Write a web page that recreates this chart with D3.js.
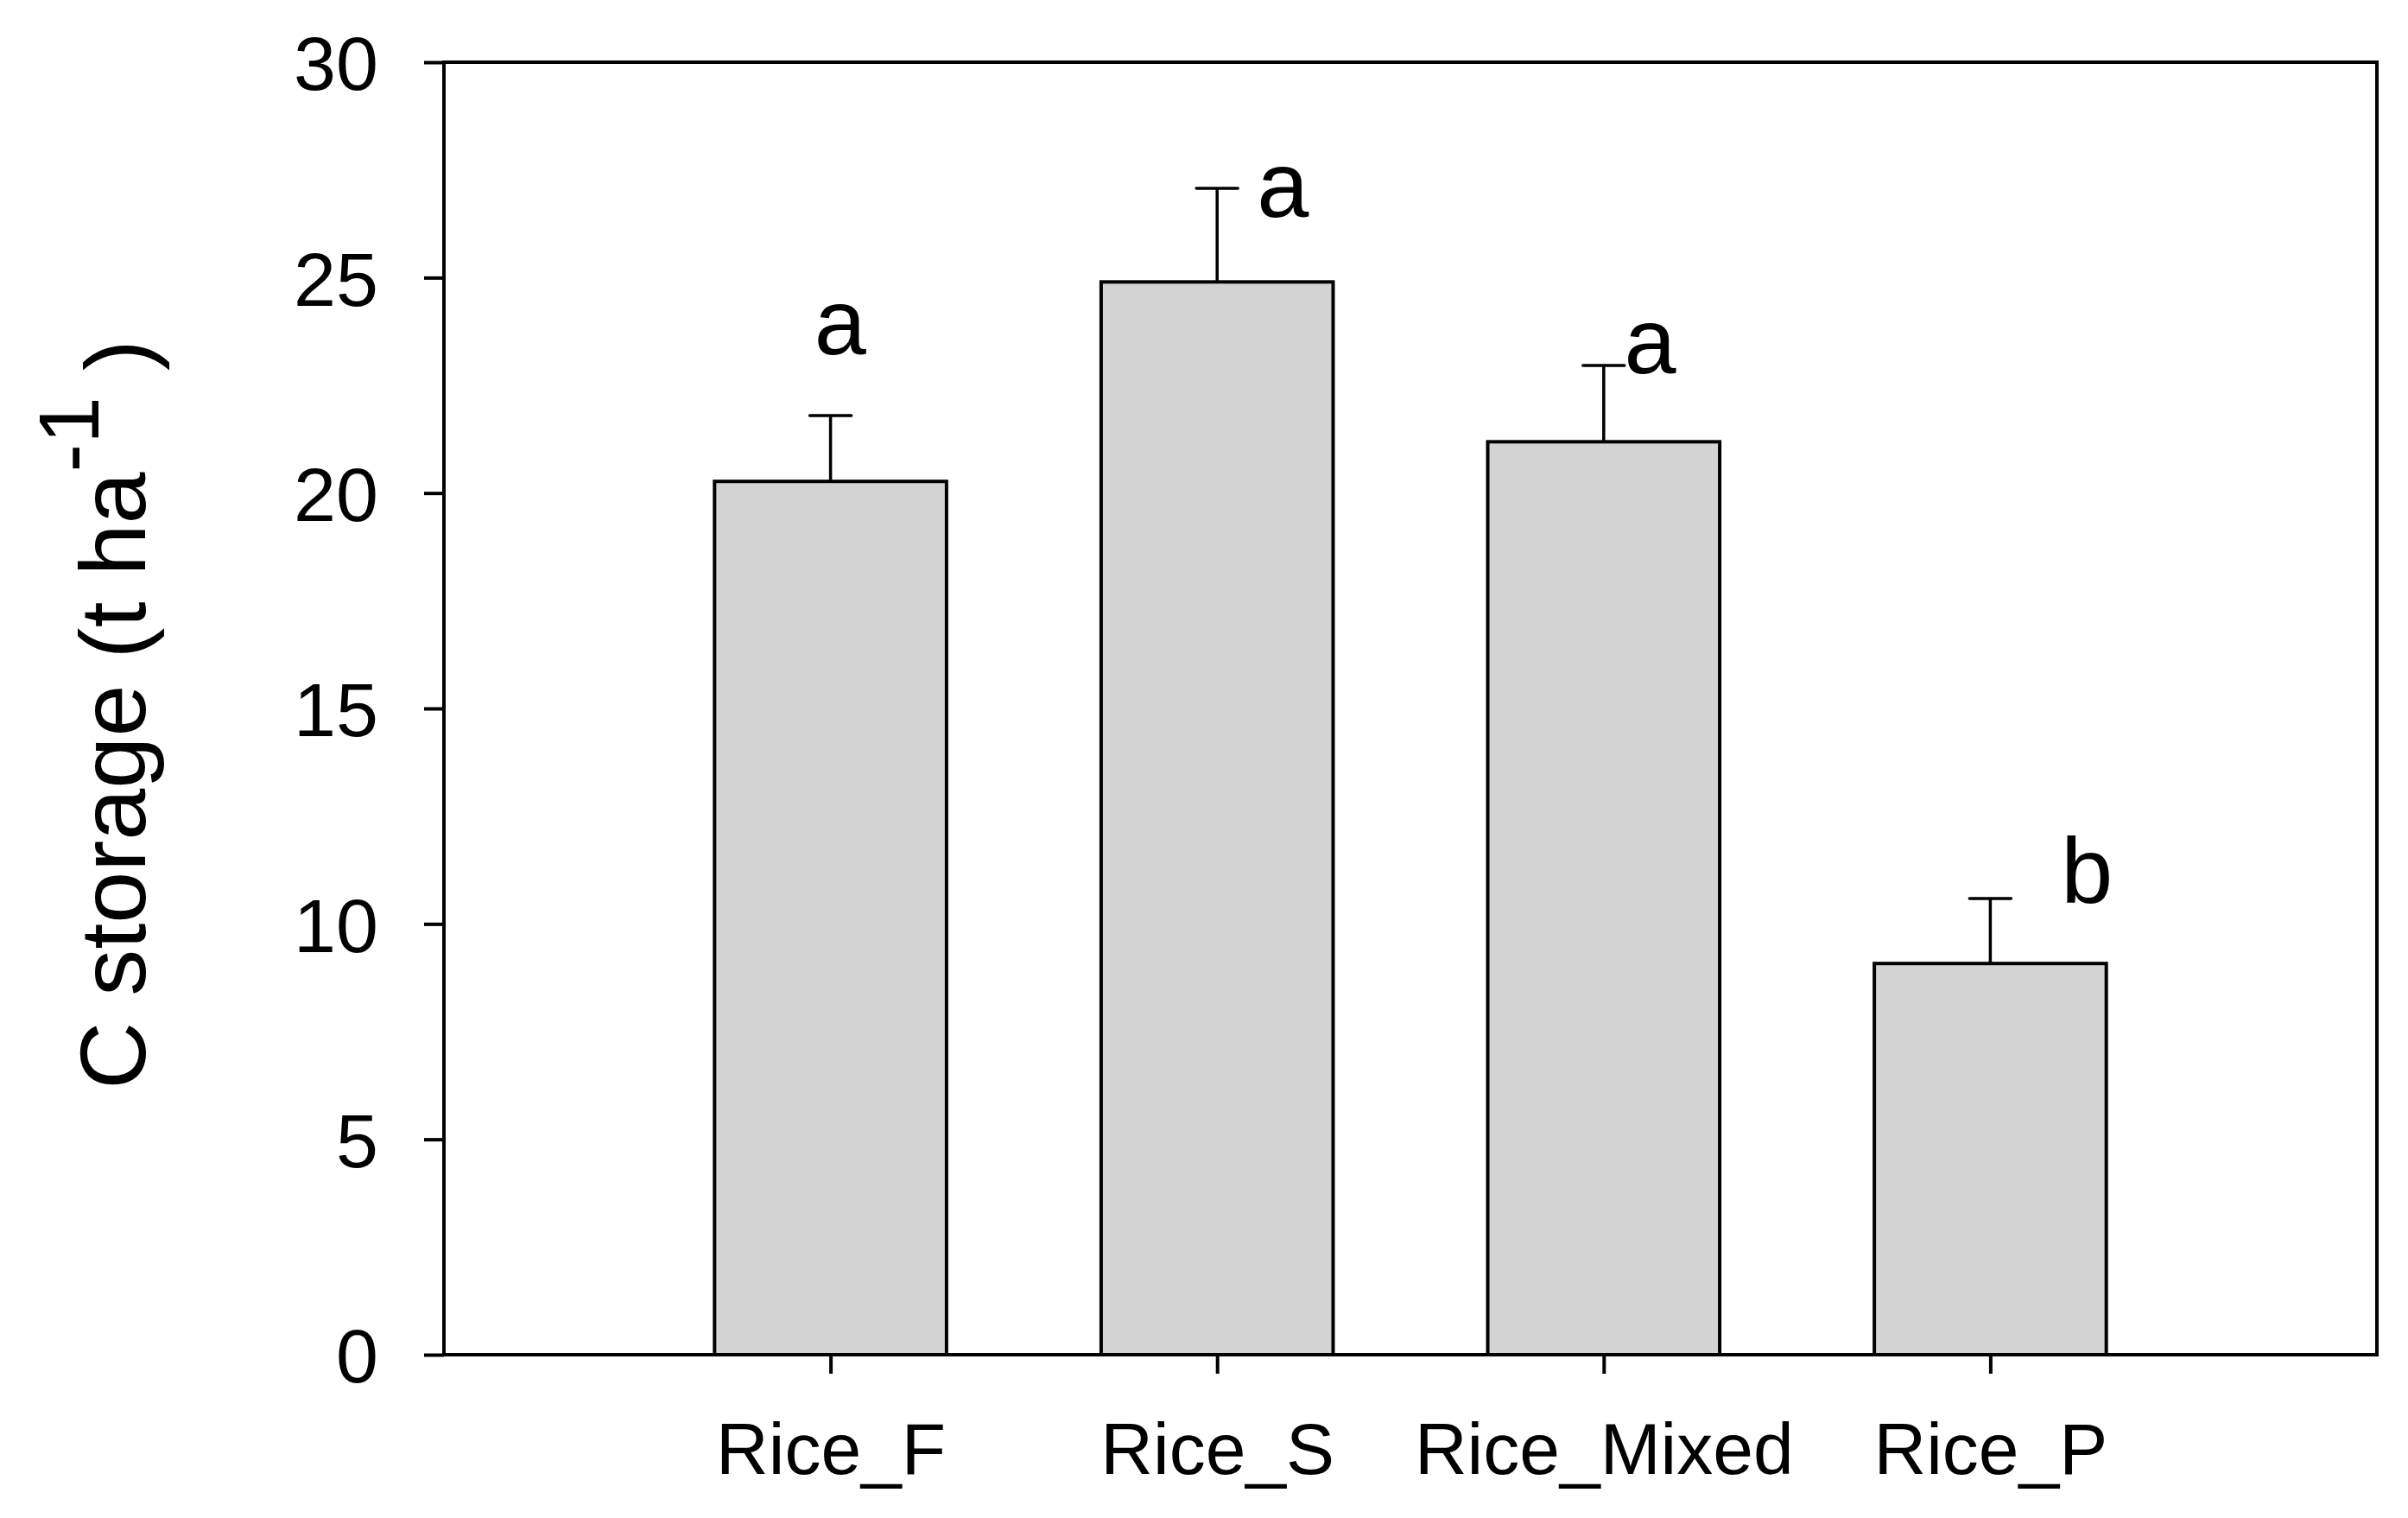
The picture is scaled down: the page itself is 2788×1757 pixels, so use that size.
<!DOCTYPE html>
<html>
<head>
<meta charset="utf-8">
<script src="https://cdn.jsdelivr.net/npm/d3@7/dist/d3.min.js"></script>
<style>
  html, body { margin: 0; padding: 0; background: #ffffff; }
  svg { display: block; }
  text { font-family: "Liberation Sans", Arial, Helvetica, sans-serif; fill: #000; }
</style>
</head>
<body>
<svg id="chart" width="2788" height="1757"></svg>
<script>
// ---- data ----
const categories = ["Rice_F", "Rice_S", "Rice_Mixed", "Rice_P"];
const means = [20.27, 24.90, 21.19, 9.08];
const errors = [1.53, 2.17, 1.77, 1.51];
const letters = ["a", "a", "a", "b"];
const yTicks = [0, 5, 10, 15, 20, 25, 30];

// ---- letter annotation anchors (data units: y value, x shift in steps) ----
const letterY = [23.22, 26.41, 22.78, 10.49];
const letterShift = [0.025, 0.17, 0.12, 0.25];

// ---- layout ----
const plotL = 514, plotR = 2752, plotT = 72, plotB = 1568;

const svg = d3.select("#chart");

const x = d3.scalePoint().domain(categories).range([plotL, plotR]).padding(1);
const y = d3.scaleLinear().domain([0, 30]).range([plotB, plotT]);
const step = x.step();
const barW = step * 0.6;
const capHalf = 24;

// bars
svg.append("g").selectAll("rect").data(categories).join("rect")
  .attr("x", d => x(d) - barW / 2)
  .attr("y", (d, i) => y(means[i]))
  .attr("width", barW)
  .attr("height", (d, i) => y(0) - y(means[i]))
  .attr("fill", "#d3d3d3")
  .attr("stroke", "#000")
  .attr("stroke-width", 4);

// error bars
const eg = svg.append("g").attr("stroke", "#000").attr("stroke-width", 3.5);
eg.selectAll("line.v").data(categories).join("line").attr("class", "v")
  .attr("x1", d => x(d)).attr("x2", d => x(d))
  .attr("y1", (d, i) => y(means[i]))
  .attr("y2", (d, i) => y(means[i] + errors[i]));
eg.selectAll("line.c").data(categories).join("line").attr("class", "c")
  .attr("stroke-linecap", "round")
  .attr("x1", d => x(d) - capHalf).attr("x2", d => x(d) + capHalf)
  .attr("y1", (d, i) => y(means[i] + errors[i]))
  .attr("y2", (d, i) => y(means[i] + errors[i]));

// frame
svg.append("rect")
  .attr("x", plotL).attr("y", plotT)
  .attr("width", plotR - plotL).attr("height", plotB - plotT)
  .attr("fill", "none").attr("stroke", "#000").attr("stroke-width", 4);

// y axis
const yAxis = svg.append("g").attr("transform", `translate(${plotL},0)`)
  .call(d3.axisLeft(y).tickValues(yTicks).tickFormat(d3.format("d"))
    .tickSize(23).tickSizeOuter(0).tickPadding(53));
yAxis.select(".domain").remove();
yAxis.selectAll(".tick line").attr("stroke", "#000").attr("stroke-width", 4);
yAxis.selectAll(".tick text")
  .attr("fill", "#000")
  .style("font-size", "88px").attr("dy", "0.36em")
  .style("font-family", "'Liberation Sans', Arial, sans-serif");

// x axis
const xAxis = svg.append("g").attr("transform", `translate(0,${plotB})`)
  .call(d3.axisBottom(x).tickSize(22).tickSizeOuter(0).tickPadding(56));
xAxis.select(".domain").remove();
xAxis.selectAll(".tick line").attr("stroke", "#000").attr("stroke-width", 4);
xAxis.selectAll(".tick text")
  .attr("fill", "#000")
  .style("font-size", "84px")
  .style("font-family", "'Liberation Sans', Arial, sans-serif");

// significance letters
svg.append("g").selectAll("text").data(letters).join("text")
  .attr("x", (d, i) => x(categories[i]) + letterShift[i] * step)
  .attr("y", (d, i) => y(letterY[i]))
  .attr("text-anchor", "middle")
  .style("font-size", "108px")
  .text(d => d);

// y axis title
const title = svg.append("text")
  .attr("transform", "translate(168,827) rotate(-90)")
  .attr("text-anchor", "middle")
  .style("font-size", "108px");
title.append("tspan").text("C storage (t ha");
title.append("tspan").attr("dy", "-0.55em").style("font-size", "98px").text("-1");
title.append("tspan").attr("dy", "0.55em").text(" )");
</script>
</body>
</html>
